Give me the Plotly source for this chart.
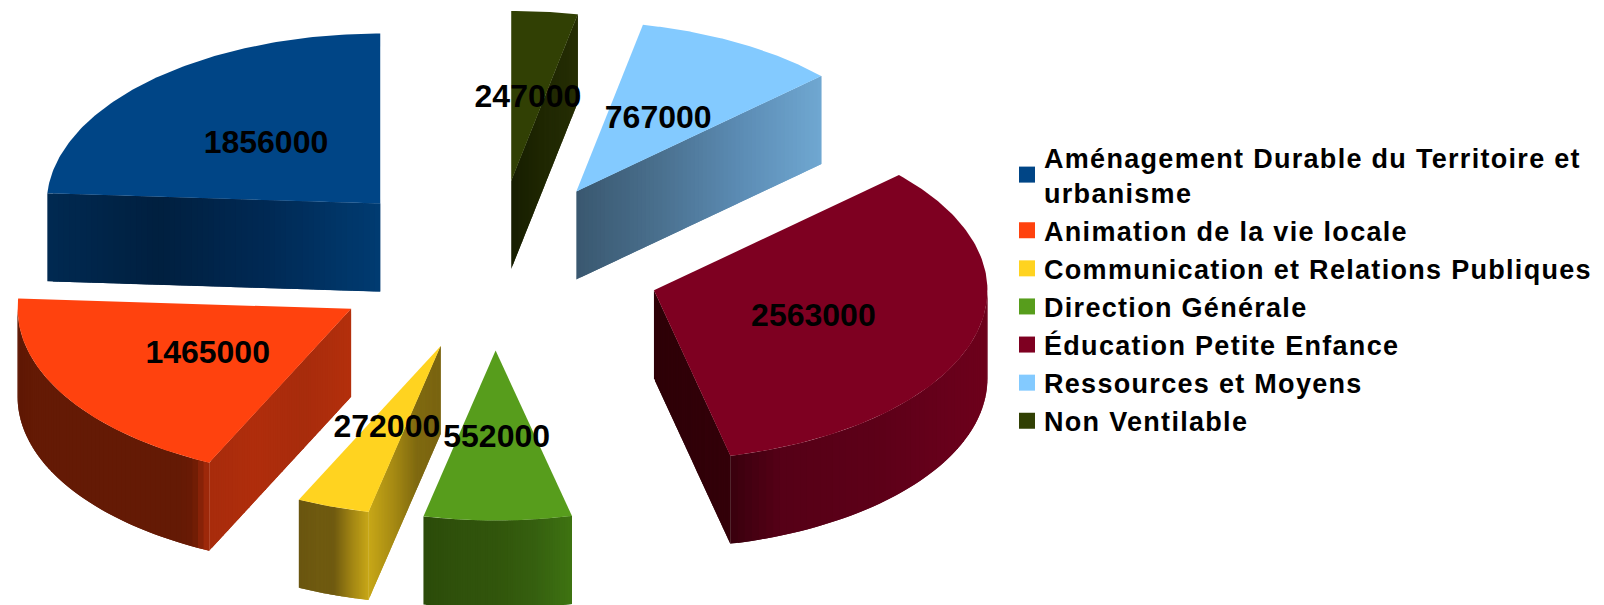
import numpy as np
import plotly.graph_objects as go

categories = [
    "Aménagement Durable du Territoire et<br>urbanisme",
    "Animation de la vie locale",
    "Communication et Relations Publiques",
    "Direction Générale",
    "Éducation Petite Enfance",
    "Ressources et Moyens",
    "Non Ventilable",
]
values = [1856000, 1465000, 272000, 552000, 2563000, 767000, 247000]
colors = ["#004586", "#ff420e", "#ffd320", "#579d1c", "#7e0021", "#83caff", "#314004"]

# side shading, left to right on screen
arc_stops = {
    1: ["#5f1804"] + ["#641a05"] * 10 + ["#6a1b05", "#a82c0c"],
    2: ["#6a5610", "#6f5a10", "#6f5a10", "#a08414", "#c8a818"],
    3: ["#2c4c0a", "#30520c", "#32560c", "#366010", "#3f7412"],
    4: ["#3a000e", "#560017", "#5a0018", "#5e0019", "#66001b", "#6e001c"],
}
cut_stops = {
    0: ["#002a52", "#002040", "#002a55", "#003c72"],
    1: ["#a82c0c", "#b02e0c", "#a82c0c", "#b4300c"],
    2: ["#c8a818", "#a88c14", "#806a10", "#7a6410"],
    4: ["#2e0007", "#34000a"],
    5: ["#3a5870", "#4a708e", "#5c8cb4", "#70a8d2"],
    6: ["#181f02", "#202803", "#262e04"],
}

CX, CY = 494.5, 265.5
RX, RY = 333.5, 170
DEPTH = 88
EXPLODE = 0.5
STRIPS = 60
LABEL_DY = 3


def hex_rgb(h):
    return np.array([int(h[i:i + 2], 16) for i in (1, 3, 5)], dtype=float)


def mix(stops, t):
    pos = t * (len(stops) - 1)
    i = min(int(pos), len(stops) - 2)
    c = hex_rgb(stops[i]) + (hex_rgb(stops[i + 1]) - hex_rgb(stops[i])) * (pos - i)
    return "rgb(%d,%d,%d)" % tuple(c)


def poly(xs, ys, color, edge=0):
    return go.Scatter(x=xs, y=ys, mode="lines", fill="toself", fillcolor=color,
                      line=dict(color=color, width=edge), hoverinfo="skip", showlegend=False)


def wall(fig, xs, ys, stops):
    # each strip runs on under the next one, so no seams show between them
    n = len(xs) - 1
    rising = xs[-1] > xs[0]
    for k in (range(n) if rising else range(n - 1, -1, -1)):
        a, b = (k, min(k + 2, n)) if rising else (max(k - 1, 0), k + 1)
        t = ((xs[k] + xs[k + 1]) / 2 - min(xs)) / (max(xs) - min(xs))
        fig.add_trace(poly([xs[a], xs[b], xs[b], xs[a]],
                           [ys[a], ys[b], ys[b] + DEPTH, ys[a] + DEPTH],
                           mix(stops, t)))


fig = go.Figure()
total = sum(values)
angle = 90.0
label_x, label_y = [], []

for i, v in enumerate(values):
    a1 = angle
    a2 = angle + v / total * 360
    angle = a2
    mid = np.radians((a1 + a2) / 2)
    ax = CX + EXPLODE * RX * np.cos(mid)
    ay = CY - EXPLODE * RY * np.sin(mid)
    label_x.append(CX + RX * np.cos(mid))
    label_y.append(CY - RY * np.sin(mid) + LABEL_DY)

    th = np.radians(np.linspace(a1, a2, 120))
    ex = ax + RX * np.cos(th)
    ey = ay - RY * np.sin(th)

    # outer wall, front half of the pie only
    if i in arc_stops:
        lo, hi = max(a1, 180), min(a2, 360)
        th2 = np.radians(np.linspace(lo, hi, STRIPS + 1))
        wall(fig, ax + RX * np.cos(th2), ay - RY * np.sin(th2), arc_stops[i])

    # cut wall, from the apex to one end of the arc
    if i in cut_stops:
        edge = a1 if np.sin(np.radians(a1 - 90)) < 0 else a2
        x0 = ax + RX * np.cos(np.radians(edge))
        y0 = ay - RY * np.sin(np.radians(edge))
        sx = np.linspace(min(ax, x0), max(ax, x0), STRIPS + 1)
        sy = ay + (sx - ax) * (y0 - ay) / (x0 - ax)
        wall(fig, sx, sy, cut_stops[i])

    fig.add_trace(poly([ax, *ex, ax], [ay, *ey, ay], colors[i]))

fig.add_trace(go.Scatter(x=label_x, y=label_y, mode="text", text=[str(v) for v in values],
                         textposition="middle center", hoverinfo="skip", showlegend=False,
                         textfont=dict(family="Liberation Sans", size=32, color="black", weight="bold")))

for name, c in zip(categories, colors):
    fig.add_trace(go.Scatter(x=[None], y=[None], mode="markers", name=name,
                             marker=dict(symbol="square", size=18, color=c)))

fig.update_layout(
    width=1604, height=605, margin=dict(l=0, r=0, t=0, b=0),
    paper_bgcolor="white", plot_bgcolor="white",
    xaxis=dict(range=[0, 1604], visible=False, fixedrange=True),
    yaxis=dict(range=[605, 0], visible=False, fixedrange=True),
    legend=dict(x=1004 / 1604, y=1 - 133 / 605, xanchor="left", yanchor="top",
                bgcolor="rgba(0,0,0,0)", itemsizing="trace",
                font=dict(family="Liberation Sans", size=27, color="black", weight="bold")),
)
# the picture's legend text is spaced wider than the font's own metrics
spacing = """
var spread = function () {
  document.body.style.margin = '0';
  document.querySelectorAll('.legendtext').forEach(function (t) { t.style.letterSpacing = '1.3px'; });
  document.querySelectorAll('.legend .scrollbox').forEach(function (s) {
    s.removeAttribute('clip-path');
    s.style.clipPath = 'none';
  });
  document.querySelectorAll('.legendsymbols').forEach(function (g) { g.setAttribute('transform', 'translate(3,0)'); });
};
spread();
setTimeout(spread, 100);
"""
fig.write_html("out.html", config={"displayModeBar": False}, post_script=spacing)
